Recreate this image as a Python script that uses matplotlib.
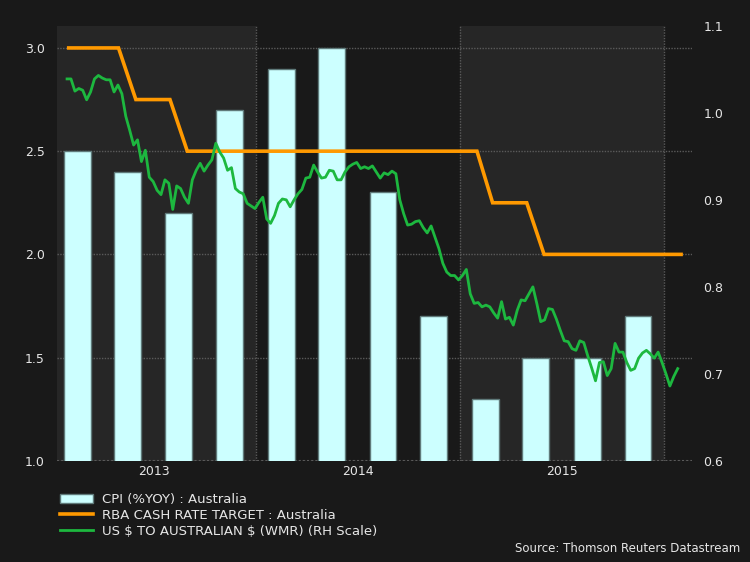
import numpy as np
import pandas as pd
import matplotlib
matplotlib.use("Agg")
import matplotlib.pyplot as plt
from matplotlib.patches import Patch
from matplotlib.lines import Line2D

# CPI (%YOY), quarterly, centred mid-quarter
cpi_dates = pd.to_datetime([
    "2013-02-15", "2013-05-16", "2013-08-16", "2013-11-15",
    "2014-02-15", "2014-05-16", "2014-08-16", "2014-11-15",
    "2015-02-15", "2015-05-16", "2015-08-16", "2015-11-15",
])
cpi = [2.5, 2.4, 2.2, 2.7, 2.9, 3.0, 2.3, 1.7, 1.3, 1.5, 1.5, 1.7]

# RBA cash rate target, month ends
rba_dates = pd.date_range("2013-01-31", "2016-01-31", freq="ME")
rba = [3.0] * 4 + [2.75] * 3 + [2.5] * 18 + [2.25] * 3 + [2.0] * 9

# US $ to Australian $ (weekly), right hand scale
fx_dates = pd.date_range("2013-01-28", periods=157, freq="7D")
fx = [
    1.039, 1.039, 1.025, 1.028, 1.026, 1.015, 1.024, 1.039, 1.043, 1.040,
    1.038, 1.038, 1.024, 1.032, 1.022, 0.996, 0.980, 0.963, 0.969, 0.944,
    0.957, 0.926, 0.921, 0.911, 0.906, 0.923, 0.919, 0.889, 0.916, 0.913,
    0.903, 0.896, 0.923, 0.934, 0.942, 0.933, 0.940, 0.946, 0.965, 0.955,
    0.948, 0.934, 0.937, 0.913, 0.909, 0.907, 0.896, 0.893, 0.890, 0.897,
    0.903, 0.878, 0.873, 0.882, 0.896, 0.901, 0.900, 0.892, 0.900, 0.907,
    0.912, 0.925, 0.926, 0.940, 0.932, 0.925, 0.926, 0.934, 0.933, 0.923,
    0.923, 0.932, 0.938, 0.941, 0.943, 0.936, 0.938, 0.936, 0.939, 0.932,
    0.925, 0.931, 0.929, 0.933, 0.930, 0.900, 0.884, 0.871, 0.872, 0.875,
    0.876, 0.868, 0.862, 0.870, 0.857, 0.844, 0.827, 0.817, 0.813, 0.813,
    0.808, 0.813, 0.820, 0.792, 0.781, 0.782, 0.777, 0.779, 0.777, 0.770,
    0.764, 0.783, 0.763, 0.765, 0.756, 0.773, 0.785, 0.784, 0.792, 0.800,
    0.781, 0.760, 0.762, 0.775, 0.774, 0.763, 0.750, 0.738, 0.737, 0.729,
    0.727, 0.738, 0.736, 0.721, 0.707, 0.692, 0.713, 0.714, 0.698, 0.706,
    0.735, 0.725, 0.725, 0.713, 0.704, 0.706, 0.718, 0.724, 0.727, 0.723,
    0.718, 0.725, 0.713, 0.700, 0.686, 0.697, 0.706,
]

years = [2013, 2014, 2015]

BG = "#191919"
BAND = "#262626"
TXT = "#e6e6e6"

fig = plt.figure(figsize=(7.5, 5.62), dpi=100, facecolor=BG)
ax = fig.add_axes([0.076, 0.18, 0.847, 0.774])
ax.set_facecolor(BG)

# shaded year bands
for yr in (2013, 2015):
    ax.axvspan(pd.Timestamp(f"{yr}-01-01"), pd.Timestamp(f"{yr+1}-01-01"),
               color=BAND, zorder=0, lw=0)

ax.bar(cpi_dates, cpi, width=48, color="#ccffff", edgecolor="#5f7a7a",
       linewidth=1, zorder=2)
ax.plot(rba_dates, rba, color="#ff9900", lw=2.6, zorder=3,
        solid_joinstyle="miter")

ax.set_ylim(1.0, 3.107)
ax.set_yticks([1.0, 1.5, 2.0, 2.5, 3.0])
ax.set_xlim(pd.Timestamp("2013-01-10"), pd.Timestamp("2016-02-20"))

# year boundaries as gridlines, labels centred in each year
ax.set_xticks([pd.Timestamp(f"{y}-01-01") for y in (2014, 2015, 2016)])
ax.set_xticklabels([])
ax.set_xticks([pd.Timestamp(f"{y}-07-02") for y in years], minor=True)
ax.set_xticklabels([str(y) for y in years], minor=True)
ax.grid(True, which="major", color="#5a5a5a", ls=(0, (1, 1)), lw=1, zorder=1)
ax.axhline(1.0, color="#5a5a5a", ls=(0, (1, 1)), lw=1.5, zorder=1)
ax.set_axisbelow(True)

ax.tick_params(axis="both", which="both", length=0, colors=TXT, labelsize=9)
ax.tick_params(axis="y", pad=9)
ax.tick_params(axis="x", which="minor", pad=3)
ax.yaxis.set_major_formatter(matplotlib.ticker.FormatStrFormatter("%.1f"))
for s in ax.spines.values():
    s.set_visible(False)

ax2 = ax.twinx()
ax2.plot(fx_dates, fx, color="#1db83f", lw=2, zorder=4)
ax2.set_ylim(0.6, 1.1)
ax2.set_yticks([0.6, 0.7, 0.8, 0.9, 1.0, 1.1])
ax2.yaxis.set_major_formatter(matplotlib.ticker.FormatStrFormatter("%.1f"))
ax2.tick_params(axis="y", length=0, colors=TXT, labelsize=9, pad=8)
ax2.patch.set_visible(False)
for s in ax2.spines.values():
    s.set_visible(False)

handles = [
    Patch(facecolor="#ccffff", edgecolor="#5f7a7a"),
    Line2D([], [], color="#ff9900", lw=2.6),
    Line2D([], [], color="#1db83f", lw=2),
]
labels = [
    "CPI (%YOY) : Australia",
    "RBA CASH RATE TARGET : Australia",
    r"US \$ TO AUSTRALIAN \$ (WMR) (RH Scale)",
]
fig.legend(handles, labels, loc="upper left", bbox_to_anchor=(0.08, 0.122),
           frameon=False, fontsize=9.5, labelcolor=TXT, handlelength=2.5,
           handleheight=0.7, labelspacing=0.2, handletextpad=0.7,
           borderpad=0, borderaxespad=0)

fig.text(0.987, 0.012, "Source: Thomson Reuters Datastream", ha="right",
         va="bottom", color=TXT, fontsize=8.5)

fig.savefig("out.png", dpi=100, facecolor=BG)
